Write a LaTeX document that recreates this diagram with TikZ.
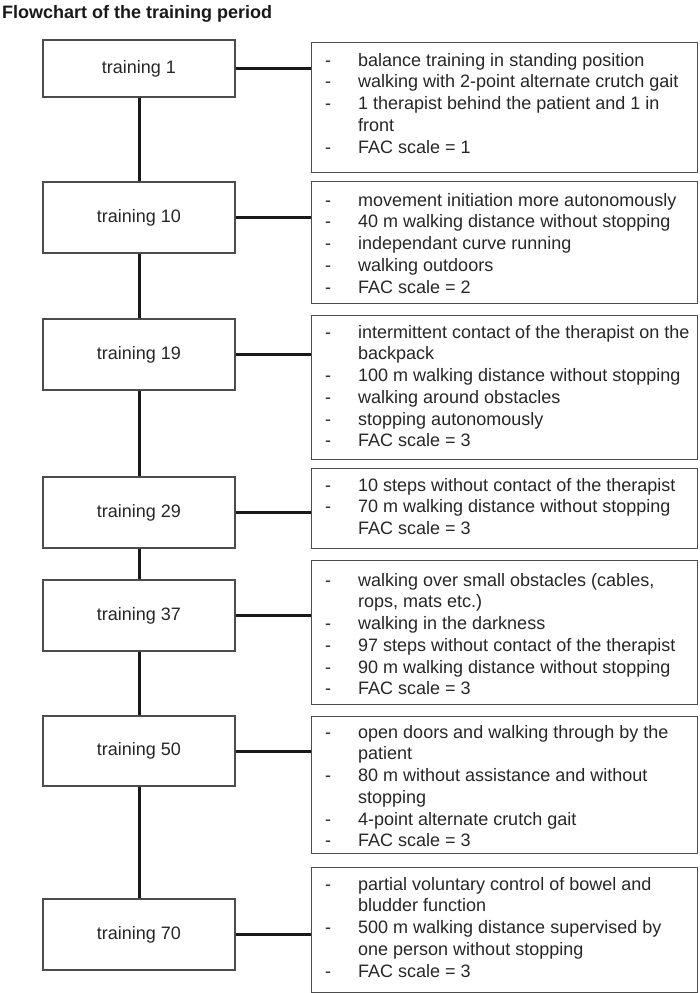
\documentclass[tikz,border=0pt]{standalone}
\usepackage{fontspec}
\setmainfont{Liberation Sans}
\newcommand\itm{\makebox[33pt][l]{-}}
\newcommand\cnt{\hspace*{33pt}}
\begin{document}
\begin{tikzpicture}[x=1pt,y=-1pt,
  lbox/.style={draw=black!70, line width=1.2pt, minimum width=192pt, inner sep=0pt, font=\fontsize{18}{21.7}\selectfont, text=black!85},
  rbox/.style={draw=black!70, line width=1.2pt, anchor=north west, minimum width=386pt, inner sep=0pt},
  rtxt/.style={anchor=north west, inner sep=0pt, align=left, font=\fontsize{18}{21.7}\selectfont, text=black!85},
  conn/.style={line width=3pt, draw=black!90}]
\useasboundingbox (0,0) rectangle (700,993);

\node[anchor=base west, inner sep=0pt, font=\bfseries\fontsize{18}{21.7}\selectfont, text=black!90] (title) at (2,18) {Flowchart of the training period};

% left boxes
\node[lbox, minimum height=57pt] (t1) at (139,68.5) {training 1};
\node[lbox, minimum height=71pt] (t10) at (139,217.5) {training 10};
\node[lbox, minimum height=71pt] (t19) at (139,354.5) {training 19};
\node[lbox, minimum height=71pt] (t29) at (139,512.5) {training 29};
\node[lbox, minimum height=71pt] (t37) at (139,615.5) {training 37};
\node[lbox, minimum height=70pt] (t50) at (139,751) {training 50};
\node[lbox, minimum height=71pt] (t70) at (139,934.5) {training 70};

% right boxes
\node[rbox, minimum height=130pt] (r1) at (311,42) {};
\node[rbox, minimum height=122pt] (r10) at (311,181) {};
\node[rbox, minimum height=144pt] (r19) at (311,315) {};
\node[rbox, minimum height=80pt] (r29) at (311,468) {};
\node[rbox, minimum height=144pt] (r37) at (311,560) {};
\node[rbox, minimum height=137pt] (r50) at (311,716) {};
\node[rbox, minimum height=125pt] (r70) at (311,867) {};

% texts
\node[rtxt] (x1) at (325,53) {\itm balance training in standing position\\
\itm walking with 2-point alternate crutch gait\\
\itm 1 therapist behind the patient and 1 in\\
\cnt front\\
\itm FAC scale = 1};
\node[rtxt] (x10) at (325,193) {\itm movement initiation more autonomously\\
\itm 40 m walking distance without stopping\\
\itm independant curve running\\
\itm walking outdoors\\
\itm FAC scale = 2};
\node[rtxt] (x19) at (325,325) {\itm intermittent contact of the therapist on the\\
\cnt backpack\\
\itm 100 m walking distance without stopping\\
\itm walking around obstacles\\
\itm stopping autonomously\\
\itm FAC scale = 3};
\node[rtxt] (x29) at (325,478) {\itm 10 steps without contact of the therapist\\
\itm 70 m walking distance without stopping\\
\cnt FAC scale = 3};
\node[rtxt] (x37) at (325,573) {\itm walking over small obstacles (cables,\\
\cnt rops, mats etc.)\\
\itm walking in the darkness\\
\itm 97 steps without contact of the therapist\\
\itm 90 m walking distance without stopping\\
\itm FAC scale = 3};
\node[rtxt] (x50) at (325,725) {\itm open doors and walking through by the\\
\cnt patient\\
\itm 80 m without assistance and without\\
\cnt stopping\\
\itm 4-point alternate crutch gait\\
\itm FAC scale = 3};
\node[rtxt] (x70) at (325,877) {\itm partial voluntary control of bowel and\\
\cnt bludder function\\
\itm 500 m walking distance supervised by\\
\cnt one person without stopping\\
\itm FAC scale = 3};

% connectors
\draw[conn] (t1.south) -- (t10.north);
\draw[conn] (t10.south) -- (t19.north);
\draw[conn] (t19.south) -- (t29.north);
\draw[conn] (t29.south) -- (t37.north);
\draw[conn] (t37.south) -- (t50.north);
\draw[conn] (t50.south) -- (t70.north);
\foreach \n in {1,10,19,29,37,50,70}{
  \draw[conn] (t\n.east) -- (t\n.east -| r\n.west);
}
\end{tikzpicture}
\end{document}
